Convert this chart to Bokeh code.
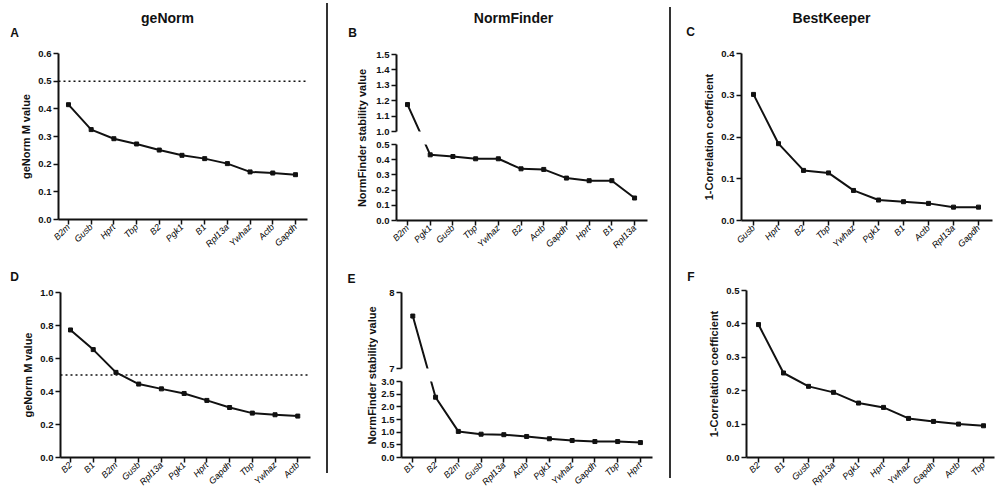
import math
from bokeh.plotting import figure
from bokeh.models import FixedTicker, Label, Span, Div, PrintfTickFormatter
from bokeh.layouts import row, column
from bokeh.embed import file_html
from bokeh.resources import INLINE

FONT = "Liberation Sans"
INK = "#111111"
TICK_FS = "9.5px"
XTICK_FS = "9px"
YLABEL_FS = "11px"
TITLE_FS = "14px"
LETTER_FS = "12px"

# ---------------- data ----------------
genorm_a_genes = ["B2m", "Gusb", "Hprt", "Tbp", "B2", "Pgk1", "B1", "Rpl13a", "Ywhaz", "Actb", "Gapdh"]
genorm_a_values = [0.415, 0.325, 0.292, 0.273, 0.251, 0.232, 0.220, 0.202, 0.172, 0.168, 0.162]
genorm_a_yticks = [0.0, 0.1, 0.2, 0.3, 0.4, 0.5, 0.6]

normfinder_b_genes = ["B2m", "Pgk1", "Gusb", "Tbp", "Ywhaz", "B2", "Actb", "Gapdh", "Hprt", "B1", "Rpl13a"]
normfinder_b_values = [1.175, 0.432, 0.421, 0.406, 0.406, 0.340, 0.336, 0.279, 0.262, 0.262, 0.148]
normfinder_b_yticks_low = [0.0, 0.1, 0.2, 0.3, 0.4, 0.5]
normfinder_b_yticks_high = [1.0, 1.1, 1.2, 1.3, 1.4, 1.5]

bestkeeper_c_genes = ["Gusb", "Hprt", "B2", "Tbp", "Ywhaz", "Pgk1", "B1", "Actb", "Rpl13a", "Gapdh"]
bestkeeper_c_values = [0.302, 0.184, 0.120, 0.114, 0.072, 0.049, 0.045, 0.041, 0.032, 0.032]
bestkeeper_c_yticks = [0.0, 0.1, 0.2, 0.3, 0.4]

genorm_d_genes = ["B2", "B1", "B2m", "Gusb", "Rpl13a", "Pgk1", "Hprt", "Gapdh", "Tbp", "Ywhaz", "Actb"]
genorm_d_values = [0.773, 0.654, 0.516, 0.445, 0.416, 0.388, 0.346, 0.303, 0.269, 0.259, 0.251]
genorm_d_yticks = [0.0, 0.2, 0.4, 0.6, 0.8, 1.0]

normfinder_e_genes = ["B1", "B2", "B2m", "Gusb", "Rpl13a", "Actb", "Pgk1", "Ywhaz", "Gapdh", "Tbp", "Hprt"]
normfinder_e_values = [7.69, 2.38, 1.03, 0.92, 0.90, 0.83, 0.74, 0.67, 0.63, 0.63, 0.59]
normfinder_e_yticks_low = [0.0, 0.5, 1.0, 1.5, 2.0, 2.5, 3.0]
normfinder_e_yticks_high = [7, 8]

bestkeeper_f_genes = ["B2", "B1", "Gusb", "Rpl13a", "Pgk1", "Hprt", "Ywhaz", "Gapdh", "Actb", "Tbp"]
bestkeeper_f_values = [0.398, 0.253, 0.213, 0.195, 0.163, 0.150, 0.117, 0.108, 0.100, 0.095]
bestkeeper_f_yticks = [0.0, 0.1, 0.2, 0.3, 0.4, 0.5]

genorm_threshold = 0.5

method_titles = ["geNorm", "NormFinder", "BestKeeper"]
panel_letters = ["A", "B", "C", "D", "E", "F"]
ylabel_genorm = "geNorm M value"
ylabel_normfinder = "NormFinder stability value"
ylabel_bestkeeper = "1-Correlation coefficient"


# ---------------- helpers ----------------
def make_fig(width, height, borders, x_range, y_range, x_axis=True):
    l, r, t, b = borders
    p = figure(width=width, height=height, x_range=x_range, y_range=y_range,
               output_backend="svg", toolbar_location=None,
               x_axis_location="below" if x_axis else None,
               min_border_left=l, min_border_right=r,
               min_border_top=t, min_border_bottom=b)
    p.outline_line_color = None
    p.grid.visible = False
    for ax in p.axis:
        ax.axis_line_width = 2
        ax.axis_line_color = INK
        ax.major_tick_line_width = 1.5
        ax.major_tick_line_color = INK
        ax.major_tick_out = 5
        ax.major_tick_in = 0
        ax.minor_tick_line_color = None
        ax.major_label_text_font = FONT
        ax.major_label_text_font_size = TICK_FS
        ax.major_label_text_color = INK
        ax.major_label_standoff = 2
    return p


def style_x(p, genes):
    ax = p.xaxis[0]
    ax.ticker = FixedTicker(ticks=list(range(len(genes))))
    ax.major_label_overrides = {i: g for i, g in enumerate(genes)}
    ax.major_label_orientation = math.pi / 4
    ax.major_label_text_font_style = "italic"
    ax.major_label_text_font_size = XTICK_FS
    ax.major_label_text_color = "#000000"
    ax.major_label_standoff = 1
    ax.axis_label_standoff = 0


def style_y(p, ticks, fmt="%.1f", label=None):
    ax = p.yaxis[0]
    ax.ticker = FixedTicker(ticks=ticks)
    ax.formatter = PrintfTickFormatter(format=fmt)
    ax.major_label_text_font_style = "bold"
    if label:
        ax.axis_label = label
        ax.axis_label_text_font = FONT
        ax.axis_label_text_font_size = YLABEL_FS
        ax.axis_label_text_font_style = "bold"
        ax.axis_label_text_color = INK
        ax.axis_label_standoff = 3


def add_text(p, sx, sy, text, size, angle=0.0):
    p.add_layout(Label(x=sx, y=sy, x_units="screen", y_units="screen", text=text,
                       text_font=FONT, text_font_size=size, text_font_style="bold",
                       text_color=INK, text_align="center", text_baseline="middle",
                       angle=angle))


def draw_series(p, xs, ys):
    p.line(xs, ys, line_width=2, line_color=INK)
    p.scatter(xs, ys, marker="square", size=4, color=INK)


def broken(values, lo, hi, lo_px, hi_px, gap_px, part):
    """Map values onto one segment of a broken axis so lines stay straight on screen."""
    lo_s = lo_px / (lo[1] - lo[0])
    hi_s = hi_px / (hi[1] - hi[0])
    out = []
    for v in values:
        if v <= lo[1]:
            px = (v - lo[0]) * lo_s
        else:
            px = lo_px + gap_px + (v - hi[0]) * hi_s
        if part == "lo":
            out.append(lo[0] + px / lo_s)
        else:
            out.append(hi[0] + (px - lo_px - gap_px) / hi_s)
    return out


def text_fig(width, height):
    p = figure(width=width, height=height, x_range=(0, 1), y_range=(0, 1),
               output_backend="svg", toolbar_location=None,
               x_axis_location=None, y_axis_location=None, min_border=0)
    p.outline_line_color = None
    p.grid.visible = False
    return p


# ---------------- column 1: geNorm ----------------
hdrA = text_fig(326, 46)
add_text(hdrA, 14, 14, panel_letters[0], LETTER_FS)
add_text(hdrA, 167, 29, method_titles[0], TITLE_FS)

figA = make_fig(326, 210, (58, 19, 7, 37), (-0.44, 10.53), (0, 0.6))
style_x(figA, genorm_a_genes)
style_y(figA, genorm_a_yticks, label=ylabel_genorm)
figA.add_layout(Span(location=genorm_threshold, dimension="width", line_dash="2 3",
                     line_width=1.5, line_color=INK))
draw_series(figA, list(range(len(genorm_a_genes))), genorm_a_values)

hdrD = text_fig(326, 29)
add_text(hdrD, 14, 9, panel_letters[3], LETTER_FS)

figD = make_fig(326, 210, (60, 16, 7, 38), (-0.44, 10.56), (0, 1.0))
style_x(figD, genorm_d_genes)
style_y(figD, genorm_d_yticks, label=ylabel_genorm)
figD.add_layout(Span(location=genorm_threshold, dimension="width", line_dash="2 3",
                     line_width=1.5, line_color=INK))
draw_series(figD, list(range(len(genorm_d_genes))), genorm_d_values)

col1 = column(row(hdrA), row(figA), row(hdrD), row(figD))

# ---------------- column 2: NormFinder (broken axes) ----------------
b_lo, b_hi = (0.0, 0.5), (1.0, 1.5)
b_x = (-0.485, 10.57)
b_idx = list(range(len(normfinder_b_genes)))
labB = text_fig(44, 256)
add_text(labB, 24, 224, panel_letters[1], LETTER_FS)
add_text(labB, 33, 118.5, ylabel_normfinder, YLABEL_FS, angle=math.pi / 2)

hdrB = text_fig(297, 47)
add_text(hdrB, 141, 30, method_titles[1], TITLE_FS)

B_top = make_fig(297, 90, (24, 22, 7, 6), b_x, b_hi, x_axis=False)
style_y(B_top, normfinder_b_yticks_high)
draw_series(B_top, b_idx, broken(normfinder_b_values, b_lo, b_hi, 76, 77, 13, "hi"))

B_bot = make_fig(297, 119, (24, 22, 7, 36), b_x, b_lo)
style_x(B_bot, normfinder_b_genes)
style_y(B_bot, normfinder_b_yticks_low)
draw_series(B_bot, b_idx, broken(normfinder_b_values, b_lo, b_hi, 76, 77, 13, "lo"))

e_lo, e_hi = (0.0, 3.0), (7.0, 8.0)
e_x = (-0.496, 10.53)
e_idx = list(range(len(normfinder_e_genes)))
labE = text_fig(50, 239)
add_text(labE, 23, 217, panel_letters[4], LETTER_FS)
add_text(labE, 43, 120, ylabel_normfinder, YLABEL_FS, angle=math.pi / 2)

E_top = make_fig(291, 119, (23, 17, 36, 7), e_x, e_hi, x_axis=False)
style_y(E_top, normfinder_e_yticks_high, fmt="%d")
draw_series(E_top, e_idx, broken(normfinder_e_values, e_lo, e_hi, 76, 76, 13, "hi"))

E_bot = make_fig(291, 120, (23, 17, 6, 38), e_x, e_lo)
style_x(E_bot, normfinder_e_genes)
style_y(E_bot, normfinder_e_yticks_low)
draw_series(E_bot, e_idx, broken(normfinder_e_values, e_lo, e_hi, 76, 76, 13, "lo"))

col2 = column(row(labB, column(row(hdrB), B_top, B_bot)),
              row(labE, column(E_top, E_bot)))

# ---------------- column 3: BestKeeper ----------------
hdrC = text_fig(326, 46)
add_text(hdrC, 19, 15, panel_letters[2], LETTER_FS)
add_text(hdrC, 160, 29, method_titles[2], TITLE_FS)

figC = make_fig(326, 210, (70, 5, 7, 36), (-0.48, 9.56), (0, 0.4))
style_x(figC, bestkeeper_c_genes)
style_y(figC, bestkeeper_c_yticks, label=ylabel_bestkeeper)
draw_series(figC, list(range(len(bestkeeper_c_genes))), bestkeeper_c_values)

hdrF = text_fig(326, 27)
add_text(hdrF, 19.5, 7, panel_letters[5], LETTER_FS)

figF = make_fig(326, 212, (75, 3, 7, 38), (-0.48, 9.44), (0, 0.5))
style_x(figF, bestkeeper_f_genes)
style_y(figF, bestkeeper_f_yticks, label=ylabel_bestkeeper)
draw_series(figF, list(range(len(bestkeeper_f_genes))), bestkeeper_f_values)

col3 = column(row(hdrC), row(figC), row(hdrF), row(figF))

# ---------------- dividers ----------------
div1 = Div(text="", width=2, height=470, margin=(3, 0, 0, 0),
           styles={"background-color": "#333333"})
div2 = Div(text="", width=2, height=471, margin=(7, 0, 0, 0),
           styles={"background-color": "#333333"})

layout = row(col1, div1, col2, div2, col3)

with open("out.html", "w") as f:
    f.write(file_html(layout, INLINE))
